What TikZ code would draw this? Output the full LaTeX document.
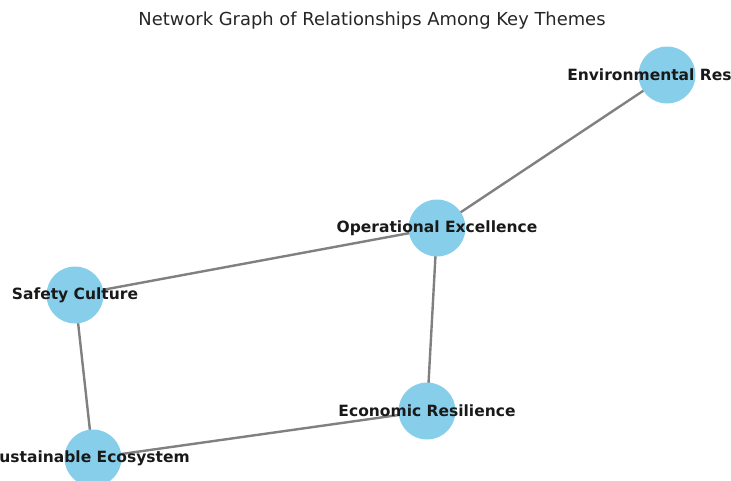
\documentclass[tikz,border=0pt]{standalone}
\usepackage{fontspec}
\usetikzlibrary{backgrounds}
\newfontfamily\djs{DejaVu Sans}
\definecolor{skyblue}{HTML}{87CEEB}
\definecolor{edgegray}{HTML}{808080}
\tikzset{
  theme/.style={circle, fill=skyblue, draw=none, minimum size=57pt, inner sep=0pt},
  themelabel/.style={font=\djs\bfseries\fontsize{15.5}{18}\selectfont, text=black!90, inner sep=0pt},
  link/.style={draw=edgegray, line width=2.4pt},
  heading/.style={font=\djs\fontsize{17.9}{21}\selectfont, text=black!85, inner sep=0pt}
}
\begin{document}
\begin{tikzpicture}[x=1pt, y=-1pt]
  \useasboundingbox (0,0) rectangle (731,480);
  \clip (0,0) rectangle (731,480);

  % theme nodes
  \node[theme] (env)  at (667,75)  {};
  \node[theme] (op)   at (437,228) {};
  \node[theme] (safe) at (75,295)  {};
  \node[theme] (sus)  at (93,458)  {};
  \node[theme] (eco)  at (427,411) {};

  % relationships, drawn behind the circles
  \begin{scope}[on background layer]
    \draw[link] (env.center)  -- (op.center);
    \draw[link] (op.center)   -- (safe.center);
    \draw[link] (op.center)   -- (eco.center);
    \draw[link] (safe.center) -- (sus.center);
    \draw[link] (sus.center)  -- (eco.center);
  \end{scope}

  % labels on top (the two outer ones run past the picture edge)
  \node[themelabel] (envl)  at ([xshift=11pt]env.center) {Environmental Resilience};
  \node[themelabel] (opl)   at (op)   {Operational Excellence};
  \node[themelabel] (safel) at (safe) {Safety Culture};
  \node[themelabel] (susl)  at ([xshift=-4pt]sus.center) {Sustainable Ecosystem};
  \node[themelabel] (ecol)  at (eco)  {Economic Resilience};

  \node[heading] (title) at (372,21) {Network Graph of Relationships Among Key Themes};
\end{tikzpicture}
\end{document}
